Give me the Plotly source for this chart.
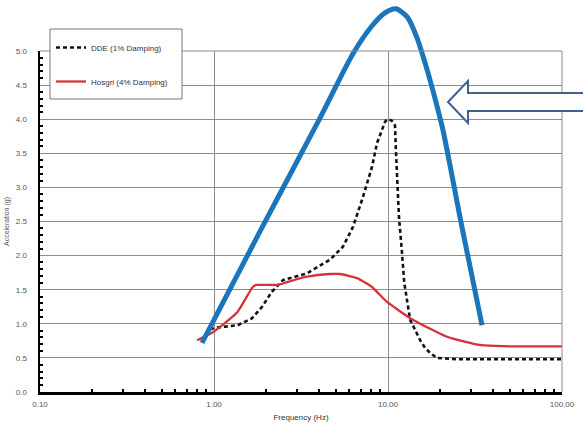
import plotly.graph_objects as go

# ---------------- data ----------------
freq_ticks = [0.1, 1, 10, 100]
freq_tick_labels = ["0.10", "1.00", "10.00", "100.00"]
freq_minor = [0.2, 0.3, 0.4, 0.5, 0.6, 0.7, 0.8, 0.9,
              2, 3, 4, 5, 6, 7, 8, 9,
              20, 30, 40, 50, 60, 70, 80, 90]
acc_ticks = [0.0, 0.5, 1.0, 1.5, 2.0, 2.5, 3.0, 3.5, 4.0, 4.5, 5.0]
acc_tick_labels = ["0.0", "0.5", "1.0", "1.5", "2.0", "2.5", "3.0", "3.5", "4.0", "4.5", "5.0"]
acc_minor = [round(0.1 * i, 1) for i in range(1, 50) if i % 5 != 0]

dde_name = "DDE (1% Damping)"
dde_freq = [0.95, 1.01, 1.37, 1.65, 1.89, 2.15, 2.49, 3.42, 4.64, 5.51, 6.29, 7.18,
            8.09, 8.65, 9.61, 9.9, 10.5, 10.97, 11.1, 11.3, 11.56, 12.0, 12.4,
            13.4, 15.3, 16.3, 17.5, 19.1, 25.0, 50.0, 100.0]
dde_acc = [0.92, 0.94, 0.98, 1.08, 1.25, 1.47, 1.64, 1.74, 1.94, 2.13, 2.42, 2.86,
           3.30, 3.65, 3.96, 4.00, 3.98, 3.91, 3.55, 3.06, 2.57, 2.08, 1.60,
           1.06, 0.76, 0.65, 0.57, 0.50, 0.48, 0.48, 0.48]

hosgri_name = "Hosgri (4% Damping)"
hosgri_freq = [0.80, 0.99, 1.36, 1.67, 1.75, 2.33, 2.63, 3.42, 4.64, 5.30, 6.64,
               8.09, 9.87, 13.9, 21.8, 33.8, 50.0, 100.0]
hosgri_acc = [0.76, 0.88, 1.17, 1.54, 1.57, 1.57, 1.61, 1.69, 1.73, 1.73, 1.67,
              1.54, 1.32, 1.06, 0.81, 0.69, 0.67, 0.67]

env_freq = [0.853, 1.86, 4.07, 6.29, 8.10, 9.61, 11.1, 12.9, 14.7, 16.8, 18.6,
            20.7, 26.6, 34.7]
env_acc = [0.72, 2.38, 4.02, 4.96, 5.37, 5.56, 5.62, 5.50, 5.19, 4.72, 4.31,
           3.84, 2.42, 0.98]

# ---------------- layout geometry ----------------
W, H = 583, 424
ML, MR, MT, MB = 40, 21, 0, 32
PW, PH = W - ML - MR, H - MT - MB
Y_TOP_PX = 51          # pixel row of the 5.0 line
Y_PER_UNIT = 68.2      # pixels per 1.0 g


def px(x, y):
    """pixel (from figure top-left) -> paper coords"""
    return (x - ML) / PW, (H - MB - y) / PH


FONT = "Liberation Sans, Arial, sans-serif"
BLUE = "#1b75bb"
RED = "#d4333a"
GRID = "#8c8c8c"

fig = go.Figure()

fig.add_trace(go.Scatter(
    x=dde_freq, y=dde_acc, name=dde_name, mode="lines",
    line=dict(color="#111111", width=2.6, dash="4px,3px"),
    legendgroup="a", xaxis="x", yaxis="y"))

fig.add_trace(go.Scatter(
    x=hosgri_freq, y=hosgri_acc, name=hosgri_name, mode="lines",
    line=dict(color=RED, width=2.3, shape="spline", smoothing=0.5),
    legendgroup="b", xaxis="x", yaxis="y"))

fig.add_trace(go.Scatter(
    x=env_freq, y=env_acc, mode="lines", showlegend=False,
    line=dict(color=BLUE, width=5, shape="spline", smoothing=0.7),
    xaxis="x2", yaxis="y2"))

y_dom_top = (H - MB - Y_TOP_PX) / PH
y2_top = PH / Y_PER_UNIT

fig.update_layout(
    width=W, height=H,
    margin=dict(l=ML, r=MR, t=MT, b=MB),
    paper_bgcolor="white", plot_bgcolor="rgba(0,0,0,0)",
    font=dict(family=FONT, size=8, color="#444"),
    showlegend=True,
    legend=dict(x=px(51, 0)[0], y=px(0, 33)[1], xanchor="left", yanchor="top",
                bgcolor="rgba(0,0,0,0)", borderwidth=0,
                traceorder="grouped", tracegroupgap=15,
                font=dict(family=FONT, size=8, color="#333")),
    xaxis=dict(type="log", range=[-1, 2], domain=[0, 1], anchor="y",
               tickmode="array", tickvals=freq_ticks, ticktext=freq_tick_labels,
               showgrid=True, gridcolor=GRID, gridwidth=1,
               showline=True, linecolor="black", linewidth=2.5,
               ticks="", zeroline=False, automargin=False,
               ticklabelstandoff=3,
               tickfont=dict(size=8, color="#555"),
               minor=dict(tickmode="array", tickvals=freq_minor, ticks="inside",
                          ticklen=3, tickwidth=2, tickcolor="black", showgrid=False),
               title=dict(text="Frequency (Hz)", standoff=7,
                          font=dict(size=8, color="#333"))),
    yaxis=dict(range=[0, 5], domain=[0, y_dom_top], anchor="x",
               tickmode="array", tickvals=acc_ticks, ticktext=acc_tick_labels,
               showgrid=True, gridcolor=GRID, gridwidth=1,
               showline=True, linecolor="black", linewidth=2.5,
               ticks="", zeroline=False, automargin=False,
               ticklabelstandoff=9,
               tickfont=dict(size=8, color="#555"),
               minor=dict(tickmode="array", tickvals=acc_minor, ticks="inside",
                          ticklen=3, tickwidth=2, tickcolor="black", showgrid=False),
               title=dict(text="Acceleration (g)", standoff=6,
                          font=dict(size=7, color="#555"))),
    xaxis2=dict(type="log", range=[-1, 2], domain=[0, 1], anchor="y2",
                visible=False),
    yaxis2=dict(range=[0, y2_top], domain=[0, 1], anchor="x2", visible=False),
)

shapes = []
# top and right frame lines
shapes.append(dict(type="line", xref="x domain", yref="y domain", x0=0, x1=1, y0=1, y1=1,
                   line=dict(color=GRID, width=1)))
shapes.append(dict(type="line", xref="x domain", yref="y domain", x0=1, x1=1, y0=0, y1=1,
                   line=dict(color=GRID, width=1)))
# legend box
bx0, by0 = px(50, 99)
bx1, by1 = px(182, 29)
shapes.append(dict(type="rect", xref="paper", yref="paper", x0=bx0, x1=bx1, y0=by0, y1=by1,
                   fillcolor="white", line=dict(color="#777", width=1), layer="above"))
# hollow arrow pointing at the envelope peak region
arrow_px = [(448, 102), (468, 81), (468, 93), (590, 93), (590, 111), (468, 111), (468, 123)]
pts = [px(a, b) for a, b in arrow_px]
path = "M " + " L ".join(f"{a:.4f},{b:.4f}" for a, b in pts) + " Z"
shapes.append(dict(type="path", xref="paper", yref="paper", path=path,
                   fillcolor="white", line=dict(color="#41618c", width=2), layer="above"))
fig.update_layout(shapes=shapes)

fig.write_html("out.html",
               config={"displayModeBar": False, "staticPlot": True},
               post_script="document.body.style.margin='0';document.body.style.padding='0';")
